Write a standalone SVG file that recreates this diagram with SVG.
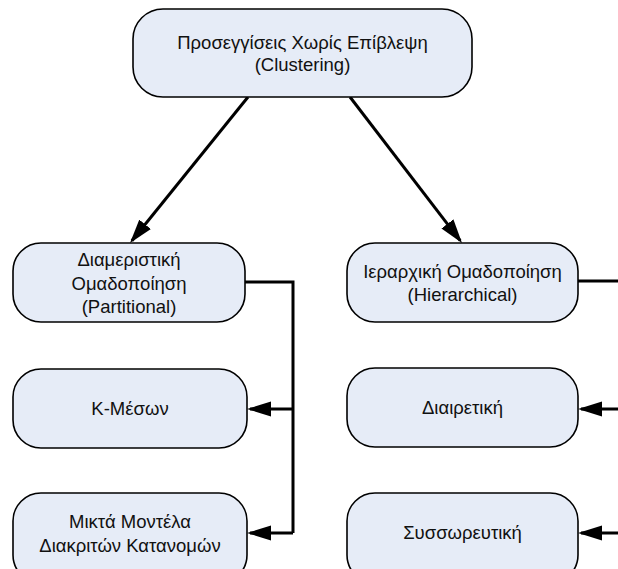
<svg xmlns="http://www.w3.org/2000/svg" width="618" height="569" viewBox="0 0 618 569">
  <style>
    .box { fill: #e6ecf7; stroke: #000; stroke-width: 1.6; }
    .lbl { font-family: "Liberation Sans", Arial, sans-serif; font-size: 18.5px; fill: #111; text-anchor: middle; }
    .conn { fill: none; stroke: #000; stroke-width: 3; stroke-linecap: butt; stroke-linejoin: miter; }
  </style>
  <defs>
    <marker id="arrow" markerUnits="userSpaceOnUse" markerWidth="24" markerHeight="16" viewBox="0 0 24 16" refX="21" refY="8" orient="auto">
      <path d="M0,0.5 L24,8 L0,15.5 z" fill="#000"/>
    </marker>
  </defs>
  <rect width="618" height="569" fill="#fff"/>

  <!-- connectors -->
  <g id="connectors">
    <line class="conn" x1="248" y1="97" x2="131.9" y2="240.7" marker-end="url(#arrow)"/>
    <line class="conn" x1="350" y1="97" x2="460.2" y2="240.6" marker-end="url(#arrow)"/>
    <polyline class="conn" points="245,282 293,282 293,533"/>
    <line class="conn" x1="293" y1="409" x2="250" y2="409" marker-end="url(#arrow)"/>
    <line class="conn" x1="293" y1="533" x2="250" y2="533" marker-end="url(#arrow)"/>
    <line class="conn" x1="578" y1="281" x2="618" y2="281"/>
    <line class="conn" x1="620" y1="409" x2="581" y2="409" marker-end="url(#arrow)"/>
    <line class="conn" x1="620" y1="533" x2="581" y2="533" marker-end="url(#arrow)"/>
  </g>

  <!-- root -->
  <g id="clustering">
    <rect class="box" x="133" y="9" width="339" height="88" rx="30" ry="30"/>
    <text class="lbl" x="302.5" y="49">Προσεγγίσεις Χωρίς Επίβλεψη</text>
    <text class="lbl" x="302.5" y="71">(Clustering)</text>
  </g>

  <g id="partitional">
    <rect class="box" x="13" y="243" width="232" height="79" rx="28" ry="28"/>
    <text class="lbl" x="129" y="266">Διαμεριστική</text>
    <text class="lbl" x="129" y="290">Ομαδοποίηση</text>
    <text class="lbl" x="129" y="313">(Partitional)</text>
  </g>

  <g id="hierarchical">
    <rect class="box" x="347" y="243" width="231" height="79" rx="28" ry="28"/>
    <text class="lbl" x="462.5" y="278">Ιεραρχική Ομαδοποίηση</text>
    <text class="lbl" x="462.5" y="301">(Hierarchical)</text>
  </g>

  <g id="kmeans">
    <rect class="box" x="13" y="369" width="234" height="79" rx="28" ry="28"/>
    <text class="lbl" x="130" y="415">Κ-Μέσων</text>
  </g>

  <g id="mixture">
    <rect class="box" x="13" y="493" width="234" height="90" rx="28" ry="28"/>
    <text class="lbl" x="130" y="528">Μικτά Μοντέλα</text>
    <text class="lbl" x="130" y="552">Διακριτών Κατανομών</text>
  </g>

  <g id="divisive">
    <rect class="box" x="347" y="368" width="231" height="79" rx="28" ry="28"/>
    <text class="lbl" x="462.5" y="414">Διαιρετική</text>
  </g>

  <g id="agglomerative">
    <rect class="box" x="347" y="493" width="231" height="90" rx="28" ry="28"/>
    <text class="lbl" x="462.5" y="539">Συσσωρευτική</text>
  </g>
</svg>
